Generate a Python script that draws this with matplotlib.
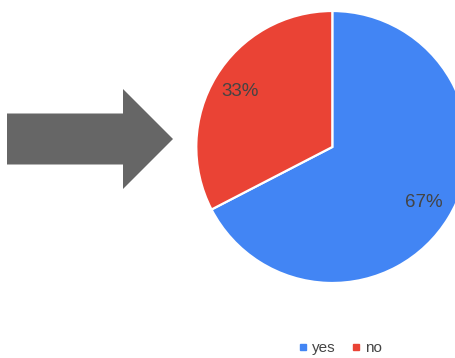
import matplotlib
matplotlib.use('Agg')
import matplotlib.pyplot as plt
from matplotlib.lines import Line2D
from matplotlib.patches import FancyArrow

# data
labels = ['yes', 'no']
values = [67.4, 32.6]
colors = ['#4285F4', '#EA4335']

plt.rcParams['font.family'] = ['Liberation Sans', 'DejaVu Sans']

W, H = 456, 358
fig = plt.figure(figsize=(W / 100, H / 100), dpi=100)

# pie axes, centre ~ (332, 147) px, radius ~136 px
cx, cy, r = 332.3, 147.0, 136.0
ax = fig.add_axes([(cx - r) / W, (H - cy - r) / H, 2 * r / W, 2 * r / H])
wedges, texts, autotexts = ax.pie(
    values, colors=colors, startangle=90, counterclock=False,
    autopct=lambda p: f'{int(p + 0.5)}%', pctdistance=0.79,
    wedgeprops=dict(edgecolor='white', linewidth=1.6),
    textprops=dict(color='#444444', fontsize=13.5))
ax.set_xlim(-1, 1)
ax.set_ylim(-1, 1)
ax.set_aspect('equal')

# decorative arrow on the left
ov = fig.add_axes([0, 0, 1, 1], zorder=-1)
ov.set_xlim(0, W)
ov.set_ylim(H, 0)
ov.axis('off')
ov.add_patch(FancyArrow(7, 139, 166, 0, width=51, head_width=100,
                        head_length=50, length_includes_head=True,
                        color='#666666', linewidth=0))

# legend
handles = [Line2D([], [], marker='s', linestyle='', markersize=5,
                  color=c) for c in colors]
fig.legend(handles, labels, loc='center', bbox_to_anchor=(340 / W, (H - 348) / H),
           ncol=2, frameon=False, fontsize=11, handlelength=0.6,
           handletextpad=0.3, columnspacing=1.0, labelcolor='#444444')

fig.savefig('out.png', dpi=100)
